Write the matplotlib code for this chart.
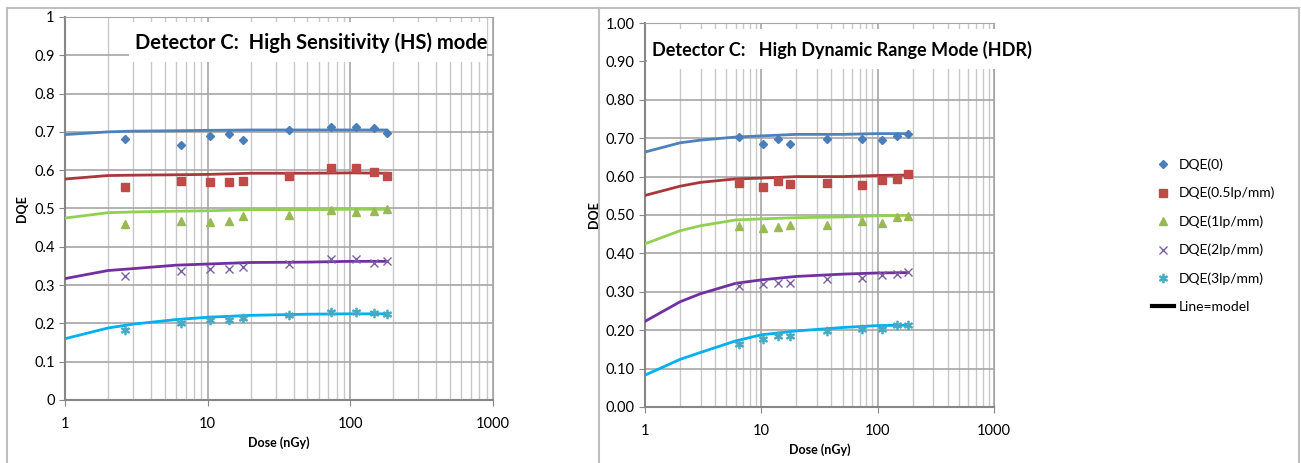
#!/usr/bin/env python
"""
DQE vs dose for detector C, HS mode and HDR mode side by side
"""

import numpy as np
import matplotlib.pyplot as plt
from matplotlib.lines import Line2D

plt.rcParams['font.family'] = ['Lato', 'DejaVu Sans']

LABELS = ["DQE(0)", "DQE(0.5lp/mm)", "DQE(1lp/mm)", "DQE(2lp/mm)", "DQE(3lp/mm)"]
MARKERS = ["D", "s", "^", "x", "$\u2217$"]
MARKER_COLORS = ["#4a7ebb", "#be4b48", "#98b954", "#7d60a0", "#46aac5"]
LINE_COLORS = ["#4f81bd", "#a8393a", "#92d050", "#7030a0", "#00b0f0"]

# HS mode measurements
HS_DOSE = [2.63, 6.46, 10.3, 14.1, 17.8, 36.9, 73.4, 110, 146, 181]
HS_DQE = [
    [0.681, 0.667, 0.688, 0.694, 0.678, 0.706, 0.713, 0.712, 0.711, 0.698],
    [0.557, 0.571, 0.570, 0.568, 0.571, 0.584, 0.605, 0.605, 0.594, 0.585],
    [0.459, 0.468, 0.466, 0.468, 0.481, 0.483, 0.497, 0.491, 0.493, 0.498],
    [0.324, 0.336, 0.341, 0.342, 0.348, 0.355, 0.367, 0.368, 0.357, 0.363],
    [0.182, 0.202, 0.210, 0.209, 0.215, 0.222, 0.229, 0.229, 0.226, 0.224],
]
MODEL_DOSE = [1, 2, 3, 6, 10, 20, 50, 100, 180]
HS_MODEL = [
    [0.693, 0.700, 0.702, 0.703, 0.704, 0.705, 0.705, 0.705, 0.705],
    [0.577, 0.586, 0.587, 0.588, 0.589, 0.592, 0.592, 0.593, 0.592],
    [0.475, 0.489, 0.491, 0.493, 0.494, 0.497, 0.497, 0.498, 0.498],
    [0.317, 0.338, 0.343, 0.352, 0.355, 0.359, 0.360, 0.362, 0.362],
    [0.160, 0.188, 0.198, 0.210, 0.216, 0.221, 0.224, 0.225, 0.225],
]

# HDR mode measurements
HDR_DOSE = [6.47, 10.3, 14.0, 17.7, 36.7, 73.3, 109, 146, 181]
HDR_DQE = [
    [0.702, 0.686, 0.697, 0.686, 0.698, 0.699, 0.695, 0.707, 0.712],
    [0.584, 0.573, 0.589, 0.581, 0.584, 0.577, 0.590, 0.593, 0.608],
    [0.472, 0.467, 0.469, 0.474, 0.475, 0.484, 0.478, 0.494, 0.497],
    [0.315, 0.319, 0.322, 0.324, 0.334, 0.337, 0.343, 0.346, 0.351],
    [0.164, 0.177, 0.184, 0.185, 0.197, 0.204, 0.203, 0.214, 0.214],
]
HDR_MODEL = [
    [0.664, 0.688, 0.695, 0.703, 0.706, 0.710, 0.710, 0.712, 0.712],
    [0.551, 0.575, 0.585, 0.594, 0.596, 0.600, 0.600, 0.603, 0.604],
    [0.425, 0.459, 0.472, 0.487, 0.490, 0.493, 0.495, 0.498, 0.499],
    [0.223, 0.274, 0.295, 0.322, 0.331, 0.340, 0.346, 0.349, 0.350],
    [0.083, 0.124, 0.142, 0.172, 0.188, 0.198, 0.207, 0.212, 0.213],
]


def draw_panel(ax, dose, dqe, model, title, fmt, title_pos, box_w, title_size):
    ax.set_xscale('log')
    ax.set_xlim(1, 1000)
    ax.set_ylim(0, 1)
    ax.set_yticks(np.arange(0, 1.01, 0.1))
    ax.set_yticklabels([fmt(v) for v in np.arange(0, 1.01, 0.1)])
    ax.set_xticks([1, 10, 100, 1000])
    ax.set_xticklabels(["1", "10", "100", "1000"])
    ax.grid(True, which='major', axis='both', color='#a6a6a6', lw=1.2)
    ax.grid(True, which='minor', axis='x', color='#c8c8c8', lw=1.0)
    ax.set_axisbelow(True)
    for s in ax.spines.values():
        s.set_color('#a6a6a6')
    ax.spines['left'].set_color('#868686')
    ax.spines['bottom'].set_color('#868686')
    ax.spines['left'].set_linewidth(1.5)
    ax.spines['bottom'].set_linewidth(1.5)
    ax.tick_params(which='major', length=4, color='#868686', labelsize=10.5)
    ax.tick_params(which='minor', length=0)
    ax.tick_params(axis='x', pad=8)

    for i in range(5):
        ax.plot(MODEL_DOSE, model[i], color=LINE_COLORS[i], lw=2.0, zorder=3)
        ms = 6 if MARKERS[i] != 'D' else 4.5
        if MARKERS[i] == 's':
            ms = 5.5
        ax.plot(dose, dqe[i], ls='none', marker=MARKERS[i], color=MARKER_COLORS[i],
                ms=ms, mew=1.0, zorder=4)

    ax.set_xlabel("Dose (nGy)", fontsize=9, fontweight='bold', labelpad=4)
    ax.set_ylabel("DQE", fontsize=9, fontweight='bold', labelpad=4)

    x0, y0 = title_pos
    ax.add_patch(plt.Rectangle((x0 - 0.015, y0 - 0.05), box_w, 0.105,
                               transform=ax.transAxes, facecolor='white',
                               edgecolor='none', zorder=5, clip_on=False))
    ax.text(x0, y0, title, transform=ax.transAxes, fontsize=title_size,
            fontweight='bold', va='center', ha='left', zorder=6)


fig = plt.figure(figsize=(13.01, 4.63), dpi=100)
ax1 = fig.add_axes([0.0500, 0.1361, 0.3290, 0.8272])
ax2 = fig.add_axes([0.4958, 0.1210, 0.2683, 0.8293])

draw_panel(ax1, HS_DOSE, HS_DQE, HS_MODEL, "Detector C:  High Sensitivity (HS) mode",
           lambda v: "%g" % round(v, 1), (0.164, 0.932), 0.836, 14.5)
draw_panel(ax2, HDR_DOSE, HDR_DQE, HDR_MODEL, "Detector C:   High Dynamic Range Mode (HDR)",
           lambda v: "%.2f" % v, (0.02, 0.930), 1.09, 13)

# chart frames
for seg in [((7, 7), (0, 455)), ((7, 599), (455, 455)), ((599, 599), (0, 455)),
            ((599, 1299), (455, 455)), ((1299, 1299), (0, 455))]:
    fig.add_artist(Line2D(np.array(seg[0]) / 1301, np.array(seg[1]) / 463,
                          color='#bfbfbf', lw=1.5))

handles = [Line2D([], [], ls='none', marker=MARKERS[i], color=MARKER_COLORS[i],
                  ms=6 if i > 0 else 4.5) for i in range(5)]
handles.append(Line2D([], [], color='black', lw=3))
fig.legend(handles, LABELS + ["Line=model"], loc='upper left',
           bbox_to_anchor=(0.876, 0.685), frameon=False, fontsize=10,
           labelspacing=1.15, handlelength=1.6, handletextpad=0.3)

fig.savefig("out.png", dpi=100)
